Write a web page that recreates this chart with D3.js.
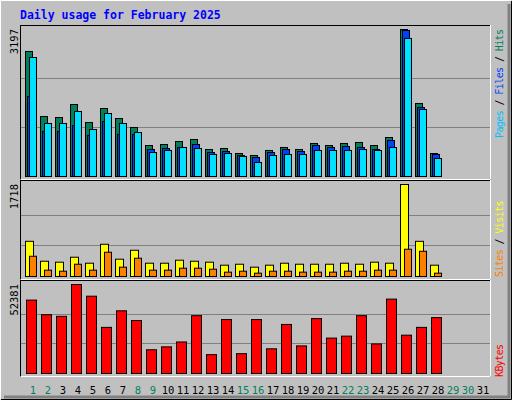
<!DOCTYPE html>
<html><head><meta charset="utf-8">
<script src="https://cdn.jsdelivr.net/npm/d3@7"></script>
<style>body{margin:0;background:#fff}text{font-family:"DejaVu Sans Mono",monospace}</style>
</head><body><svg id="chart" width="512" height="400"></svg>
<script>
const days = d3.range(1, 32);
const weekend = [1, 2, 8, 9, 15, 16, 22, 23, 29, 30];
const hits = [2719,1305,1283,1566,1174,1479,1261,1066,674,696,761,805,587,609,500,457,566,631,587,718,674,718,740,674,848,3197,1588,500];
const files = [1740,979,979,1109,892,1196,914,914,587,609,631,696,522,544,457,413,522,587,544,674,631,653,631,587,783,3175,1501,479];
const pages = [2588,1153,1153,1414,1022,1370,1153,957,522,566,631,609,479,500,435,305,457,479,479,566,566,566,587,566,631,3002,1457,392];
const visits = [657,285,267,360,248,602,323,490,248,248,304,285,267,211,229,174,211,248,229,229,229,248,229,267,248,1718,657,211];
const sites = [378,118,99,229,118,453,174,341,118,118,155,155,136,81,99,62,99,99,81,81,81,99,99,118,118,509,471,62];
const kbytes = [43200,34600,33650,52381,45500,27150,36900,31170,13960,15680,18550,34030,11090,31740,11660,31740,14530,28870,16250,32310,20840,21990,34030,17400,43780,22560,27150,32890];

const svg = d3.select("#chart");
svg.append("rect").attr("width", 512).attr("height", 400).attr("fill", "#c0c0c0");
svg.append("path").attr("d", "M0.5,399.5V0.5H511.5").attr("fill", "none").attr("stroke", "#fff");
svg.append("path").attr("d", "M1,399.5H511.5V1").attr("fill", "none").attr("stroke", "#000");
svg.append("path").attr("d", "M4,397H509V4").attr("fill", "none").attr("stroke", "#808080").attr("stroke-width", 3);

svg.append("text").attr("x", 20).attr("y", 19).attr("fill", "#0000ff")
    .attr("font-size", 11.5).attr("font-weight", "bold").text("Daily usage for February 2025");

const x = d3.scaleLinear().domain([1, 32]).range([25, 490]);

function panel(top, bottom, maxV) {
    svg.append("rect").attr("x", 20.5).attr("y", top + 0.5).attr("width", 470).attr("height", bottom - top)
        .attr("fill", "none").attr("stroke", "#000");
    svg.append("path").attr("d", `M20.5,${bottom + 0.5}H490.5V${top}`).attr("fill", "none").attr("stroke", "#fff");
    const y = d3.scaleLinear().domain([0, maxV]).range([bottom - 3, top + 4]);
    [1 / 3, 2 / 3].forEach(f => {
        svg.append("line").attr("x1", 21).attr("x2", 490).attr("y1", Math.round(y(maxV * f)) + 0.5)
            .attr("y2", Math.round(y(maxV * f)) + 0.5).attr("stroke", "#808080");
    });
    svg.append("text").attr("transform", `translate(18,${top + 4}) rotate(-90)`).attr("text-anchor", "end")
        .attr("font-size", 10.5).attr("fill", "#000").text(maxV);
    return y;
}

function bars(y, data, dx, w, color) {
    svg.append("g").selectAll("rect").data(data).join("rect")
        .attr("x", (d, i) => x(i + 1) + dx + 0.5).attr("width", w)
        .attr("y", d => y(d) + 0.5).attr("height", d => y(0) - y(d))
        .attr("fill", color).attr("stroke", "#000");
}

function sideLabel(by, parts) {
    const t = svg.append("text").attr("transform", `translate(503,${by}) rotate(-90)`)
        .attr("font-size", 10).attr("letter-spacing", -0.6);
    parts.forEach(p => t.append("tspan").attr("fill", p[1]).text(p[0]));
}

const y1 = panel(25, 179, 3197);
bars(y1, hits, 0, 7, "#00805c");
bars(y1, files, 2, 7, "#0040ff");
bars(y1, pages, 4, 7, "#00e0ff");
sideLabel(138, [["Pages", "#00c0ff"], [" / ", "#000"], ["Files", "#0040ff"], [" / ", "#000"], ["Hits", "#00805c"]]);

const y2 = panel(180, 279, 1718);
bars(y2, visits, 0, 8, "#ffff00");
bars(y2, sites, 4, 7, "#ff8000");
sideLabel(277, [["Sites", "#ff8000"], [" / ", "#000"], ["Visits", "#ffff00"]]);

const y3 = panel(280, 376, 52381);
bars(y3, kbytes, 1, 10, "#ff0000");
sideLabel(377, [["KBytes", "#ff0000"]]);

svg.append("g").selectAll("text").data(days).join("text")
    .attr("x", d => x(d) + 8).attr("y", 394).attr("text-anchor", "middle").attr("font-size", 10.5)
    .attr("fill", d => weekend.includes(d) ? "#00805c" : "#000").text(d => d);
</script></body></html>
